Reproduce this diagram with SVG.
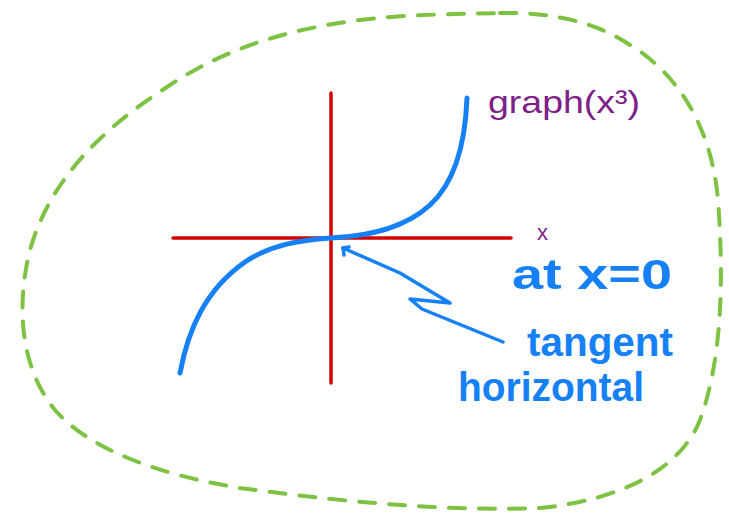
<svg xmlns="http://www.w3.org/2000/svg" width="729" height="514" viewBox="0 0 729 514">
<style>
.blob{fill:none;stroke:#7dc242;stroke-width:4;stroke-dasharray:16 14;stroke-linecap:round}
.axis{fill:none;stroke:#d40000;stroke-width:3.5;stroke-linecap:round}
.curve{fill:none;stroke:#1681f7;stroke-width:5;stroke-linecap:round;stroke-linejoin:round}
.pen{fill:none;stroke:#1681f7;stroke-width:3.5;stroke-linecap:round;stroke-linejoin:round}
.blue{fill:#1681f7;font-family:"Liberation Sans",Arial,sans-serif;font-weight:bold}
.purple{fill:#7d2189;font-family:"Liberation Sans",Arial,sans-serif}
</style>
<rect width="729" height="514" fill="#ffffff"/>
<g id="region">
<path class="blob" d="M 500 13 C 560 12 600 25 630 45 C 680 75 712 130 718 200 C 724 280 722 360 700 420 C 680 470 620 500 540 508 C 440 512 330 500 240 488 C 160 475 90 450 55 410 C 22 370 15 310 30 250 C 50 180 100 130 170 85 C 220 52 280 30 360 20 C 410 14 460 14 500 13 Z"/>
</g>
<g id="axes">
<line class="axis" x1="173" y1="238" x2="511" y2="238"/>
<line class="axis" x1="331" y1="93" x2="331" y2="383"/>
</g>
<g id="graph">
<path class="curve" d="M 180 373 C 188 330 205 290 245 262 C 270 245 300 240 331 238 C 370 236 405 228 430 205 C 452 185 465 150 467 98"/>
</g>
<g id="connectors">
<path class="pen" d="M 343 248 L 400 273 L 450 303 L 410 299 L 422 309 L 503 342"/>
<path class="pen" d="M 343 248 L 344 255 M 343 248 L 349 247"/>
</g>
<g id="labels">
<text class="purple" x="488" y="113" font-size="32" textLength="152" lengthAdjust="spacingAndGlyphs">graph(x³)</text>
<text class="purple" x="537" y="240" font-size="22">x</text>
<text class="blue" x="512" y="289" font-size="42" textLength="160" lengthAdjust="spacingAndGlyphs">at x=0</text>
<text class="blue" x="527" y="356" font-size="40" textLength="146" lengthAdjust="spacingAndGlyphs">tangent</text>
<text class="blue" x="458" y="401" font-size="40" textLength="186" lengthAdjust="spacingAndGlyphs">horizontal</text>
</g>
</svg>
